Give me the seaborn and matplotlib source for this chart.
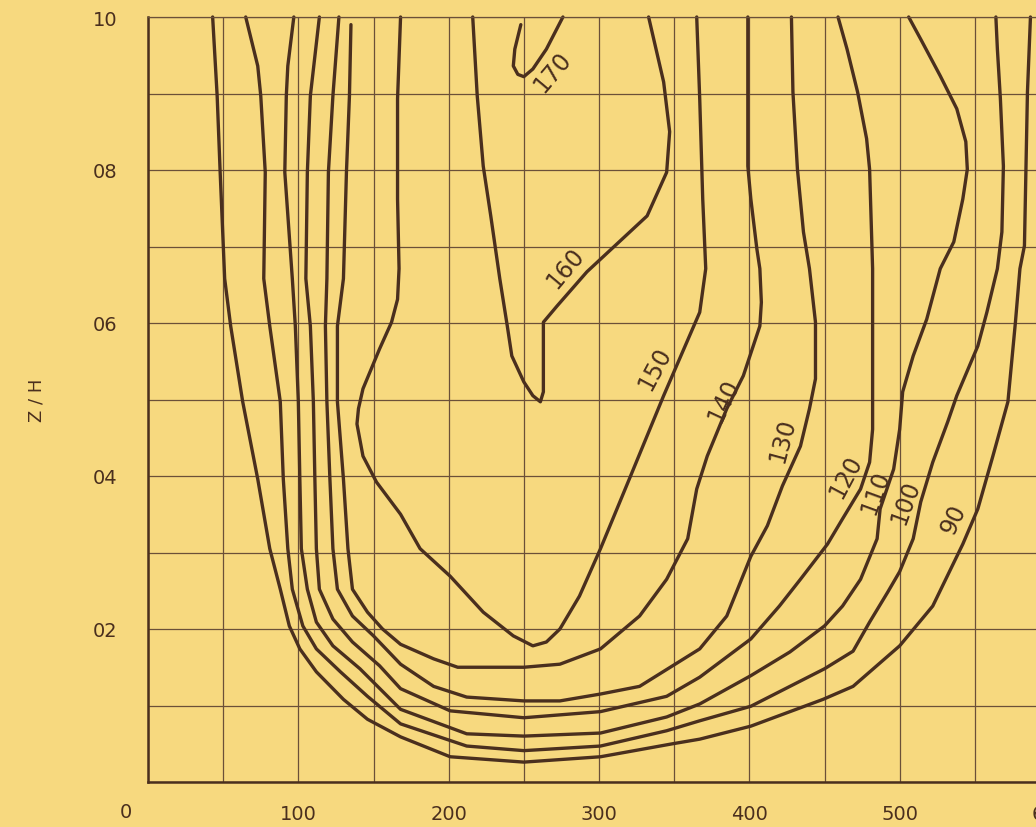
import numpy as np
import pandas as pd
import matplotlib
matplotlib.use("Agg")
import matplotlib.pyplot as plt
import seaborn as sns

# iso-lines (x along channel, z = Z/H)
levels = [90, 100, 110, 120, 130, 140, 150, 160, 170]

x_90 = [43, 46, 48, 51, 55, 63, 73, 81, 88, 94, 101, 112, 130, 146, 168, 201, 250, 301, 349, 367,
        401, 449, 469, 500, 522, 542, 552, 562, 572, 577, 580, 583, 585, 587]
z_90 = [1.00, 0.897, 0.797, 0.658, 0.596, 0.497, 0.396, 0.305, 0.252, 0.204, 0.174, 0.144, 0.108,
        0.082, 0.059, 0.033, 0.026, 0.033, 0.050, 0.056, 0.073, 0.108, 0.125, 0.178, 0.230, 0.311,
        0.357, 0.426, 0.497, 0.601, 0.671, 0.701, 0.902, 1.00]

x_100 = [65, 73, 75, 78, 77, 81, 88, 90, 93, 96, 103, 112, 128, 146, 168, 212, 250, 301, 345, 367,
         401, 450, 469, 480, 492, 500, 509, 514, 522, 532, 538, 552, 558, 565, 568, 569, 567, 565, 564]
z_100 = [1.00, 0.936, 0.897, 0.797, 0.658, 0.596, 0.497, 0.396, 0.305, 0.252, 0.204, 0.174, 0.144,
         0.112, 0.076, 0.047, 0.041, 0.047, 0.067, 0.080, 0.099, 0.148, 0.171, 0.209, 0.248, 0.275,
         0.318, 0.366, 0.418, 0.471, 0.505, 0.570, 0.614, 0.671, 0.719, 0.805, 0.893, 0.958, 1.00]

x_110 = [97, 93, 92, 91, 96, 98, 100, 101, 102, 106, 112, 123, 141, 168, 212, 250, 301, 345, 367,
         401, 427, 450, 462, 474, 485, 487, 496, 500, 502, 509, 518, 527, 536, 542, 545, 544, 538,
         527, 514, 506]
z_110 = [1.00, 0.936, 0.897, 0.797, 0.658, 0.596, 0.497, 0.396, 0.305, 0.252, 0.209, 0.178, 0.148,
         0.095, 0.063, 0.060, 0.064, 0.085, 0.102, 0.139, 0.170, 0.204, 0.230, 0.265, 0.318, 0.357,
         0.409, 0.461, 0.510, 0.557, 0.605, 0.671, 0.706, 0.762, 0.801, 0.837, 0.880, 0.923, 0.971,
         1.00]

x_120 = [114, 108, 106, 105, 108, 110, 111, 112, 114, 123, 136, 154, 168, 201, 250, 301, 345, 367,
         401, 420, 434, 452, 462, 474, 480, 482, 482, 482, 480, 478, 472, 465, 459]
z_120 = [1.00, 0.897, 0.797, 0.658, 0.596, 0.497, 0.396, 0.305, 0.252, 0.213, 0.183, 0.152, 0.122,
         0.093, 0.084, 0.092, 0.112, 0.137, 0.187, 0.230, 0.265, 0.311, 0.344, 0.383, 0.418, 0.461,
         0.497, 0.671, 0.801, 0.841, 0.902, 0.958, 1.00]

x_130 = [127, 123, 120, 119, 118, 119, 121, 123, 126, 136, 150, 168, 190, 212, 250, 274, 301, 327,
         367, 385, 401, 412, 422, 434, 440, 444, 444, 440, 436, 432, 429, 428]
z_130 = [1.00, 0.897, 0.797, 0.658, 0.596, 0.497, 0.396, 0.305, 0.252, 0.217, 0.191, 0.154, 0.125,
         0.111, 0.106, 0.106, 0.115, 0.125, 0.174, 0.217, 0.295, 0.335, 0.387, 0.439, 0.488, 0.527,
         0.601, 0.671, 0.719, 0.801, 0.902, 1.00]

x_140 = [135, 134, 132, 130, 126, 126, 130, 133, 136, 146, 156, 168, 190, 206, 250, 274, 301, 327,
         345, 359, 365, 372, 385, 396, 407, 408, 407, 405, 401, 399, 399]
z_140 = [0.99, 0.897, 0.797, 0.658, 0.596, 0.497, 0.396, 0.305, 0.252, 0.222, 0.200, 0.180, 0.161,
         0.150, 0.150, 0.154, 0.174, 0.217, 0.265, 0.318, 0.383, 0.426, 0.488, 0.531, 0.596, 0.627,
         0.671, 0.697, 0.762, 0.805, 1.00]

x_150 = [168, 166, 166, 167, 166, 162, 154, 143, 140, 139, 143, 152, 168, 181, 201, 223, 243, 256,
         265, 274, 287, 301, 321, 343, 367, 371, 369, 367, 365]
z_150 = [1.00, 0.893, 0.762, 0.671, 0.631, 0.601, 0.566, 0.514, 0.488, 0.468, 0.426, 0.392, 0.350,
         0.305, 0.269, 0.222, 0.191, 0.178, 0.183, 0.200, 0.243, 0.305, 0.400, 0.505, 0.614, 0.671,
         0.762, 0.893, 1.00]

x_160 = [216, 219, 223, 228, 234, 239, 242, 250, 256, 261, 263, 263, 272, 292, 332, 345, 347, 343, 333]
z_160 = [1.00, 0.897, 0.805, 0.740, 0.658, 0.596, 0.557, 0.523, 0.505, 0.497, 0.510, 0.601, 0.622,
         0.667, 0.740, 0.797, 0.850, 0.915, 1.00]

x_170 = [248, 244, 243, 246, 250, 256, 265, 276]
z_170 = [0.99, 0.958, 0.936, 0.925, 0.922, 0.932, 0.958, 1.00]

# where the level numbers are written, and their slant
label_x = [536, 504, 484, 464, 422, 383, 337, 278, 269]
label_z = [0.344, 0.366, 0.38, 0.40, 0.448, 0.50, 0.542, 0.673, 0.929]
label_rot = [65, 70, 70, 62, 75, 65, 62, 50, 50]

xs_all = [x_90, x_100, x_110, x_120, x_130, x_140, x_150, x_160, x_170]
zs_all = [z_90, z_100, z_110, z_120, z_130, z_140, z_150, z_160, z_170]

frames = []
for lev, xs, zs in zip(levels, xs_all, zs_all):
    frames.append(pd.DataFrame({"x": xs, "z": zs, "level": lev}))
df = pd.concat(frames, ignore_index=True)

bg = "#f7d97f"
ink = "#4a2f1e"
grid_col = "#6b5038"

sns.set_style("white")
plt.rcParams["font.family"] = ["DejaVu Sans"]

fig = plt.figure(figsize=(10.36, 8.28), dpi=100)
fig.patch.set_facecolor(bg)
ax = fig.add_axes([148 / 1036, 45 / 828, 902 / 1036, 765 / 828])
ax.set_facecolor(bg)

sns.lineplot(data=df, x="x", y="z", units="level", estimator=None, sort=False,
             color=ink, lw=2.4, legend=False, ax=ax)
for line in ax.get_lines():
    line.set_solid_joinstyle("round")
    line.set_solid_capstyle("round")
    line.set_clip_on(False)

for lev, lx, lz, rot in zip(levels, label_x, label_z, label_rot):
    ax.text(lx, lz, str(lev), rotation=rot, rotation_mode="anchor", ha="center", va="center",
            fontsize=17, color=ink)

ax.set_xlim(0, 600)
ax.set_ylim(0, 1.0)
ax.set_xticks(np.arange(0, 601, 100))
ax.set_xticks(np.arange(0, 601, 50), minor=True)
ax.set_yticks([0.2, 0.4, 0.6, 0.8, 1.0])
ax.set_yticks(np.arange(0, 1.01, 0.1), minor=True)
ax.set_xticklabels(["", "100", "200", "300", "400", "500", "600"])
ax.set_yticklabels(["02", "04", "06", "08", "10"])
ax.tick_params(which="both", length=0, colors=ink, labelsize=14)
ax.tick_params(axis="y", pad=22)
ax.tick_params(axis="x", pad=16)
ax.grid(which="both", color=grid_col, lw=0.9)
ax.set_axisbelow(True)

for side in ["left", "bottom"]:
    ax.spines[side].set_color(ink)
    ax.spines[side].set_linewidth(1.8)
ax.spines["top"].set_color(grid_col)
ax.spines["top"].set_linewidth(0.9)
ax.spines["right"].set_visible(False)

ax.text(-15, -0.038, "0", ha="center", va="center", fontsize=14, color=ink, clip_on=False)
ax.set_xlabel("")
ax.set_ylabel("Z / H", fontsize=13, color=ink, labelpad=34)

fig.savefig("out.png", dpi=100, facecolor=bg)
